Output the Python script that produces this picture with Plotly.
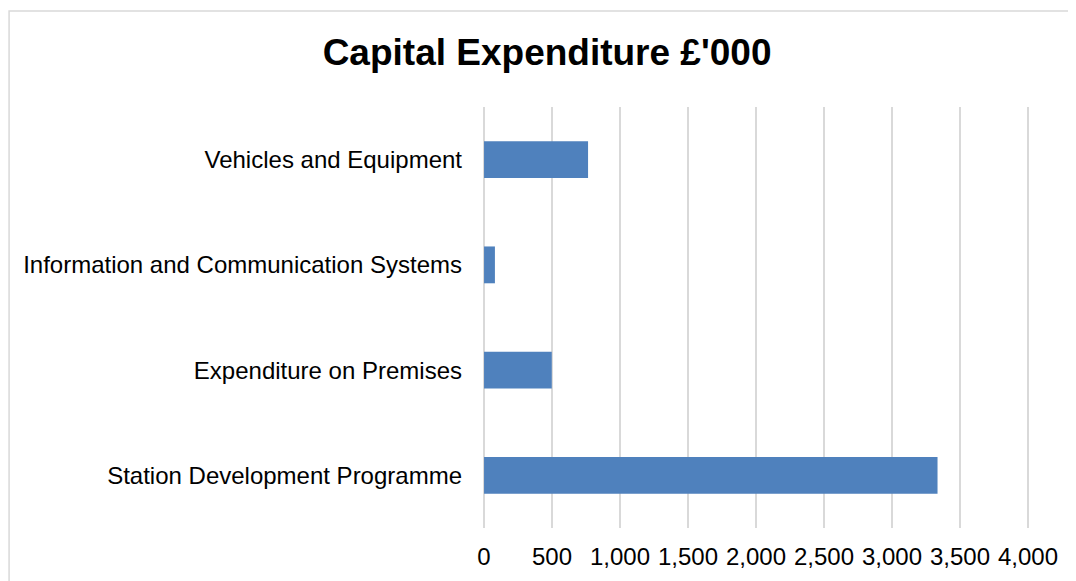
import plotly.graph_objects as go

categories = [
    "Station Development Programme",
    "Expenditure on Premises",
    "Information and Communication Systems",
    "Vehicles and Equipment",
]
values = [3335, 498, 80, 765]
x_ticks = [0, 500, 1000, 1500, 2000, 2500, 3000, 3500, 4000]

fig = go.Figure()

fig.add_trace(
    go.Bar(
        y=categories,
        x=values,
        orientation="h",
        width=0.35,
        marker=dict(color="#4F81BD", line=dict(width=0)),
        hoverinfo="skip",
    )
)

# chart border (cropped at right and bottom in the original)
fig.add_shape(
    type="rect",
    xref="paper",
    yref="paper",
    x0=-0.863,
    x1=1.3,
    y0=-0.4,
    y1=1.228,
    line=dict(color="#D9D9D9", width=1.5),
    layer="below",
)

# page body has an 8px margin, so margins are shifted to compensate
fig.update_layout(
    width=1076,
    height=581,
    margin=dict(l=474, r=54, t=99, b=61),
    paper_bgcolor="white",
    plot_bgcolor="white",
    showlegend=False,
    font=dict(family="Liberation Sans, Arial", color="#000000"),
    title=dict(
        text="<b>Capital Expenditure £'000</b>",
        x=0.501,
        xanchor="center",
        y=0.924,
        yanchor="middle",
        font=dict(size=37, color="#000000"),
    ),
    xaxis=dict(
        # padding so the 0 and 4,000 gridlines are not clipped at the edges
        range=[-15, 4015],
        tickvals=x_ticks,
        ticktext=[f"{v:,}" for v in x_ticks],
        showgrid=True,
        gridcolor="#D9D9D9",
        gridwidth=1.5,
        zeroline=False,
        showline=False,
        ticks="",
        ticklabelstandoff=12,
        tickfont=dict(size=24),
        fixedrange=True,
    ),
    yaxis=dict(
        showgrid=False,
        zeroline=False,
        showline=False,
        ticks="",
        ticklabelstandoff=19,
        tickfont=dict(size=24),
        fixedrange=True,
    ),
)

fig.write_html("out.html")
